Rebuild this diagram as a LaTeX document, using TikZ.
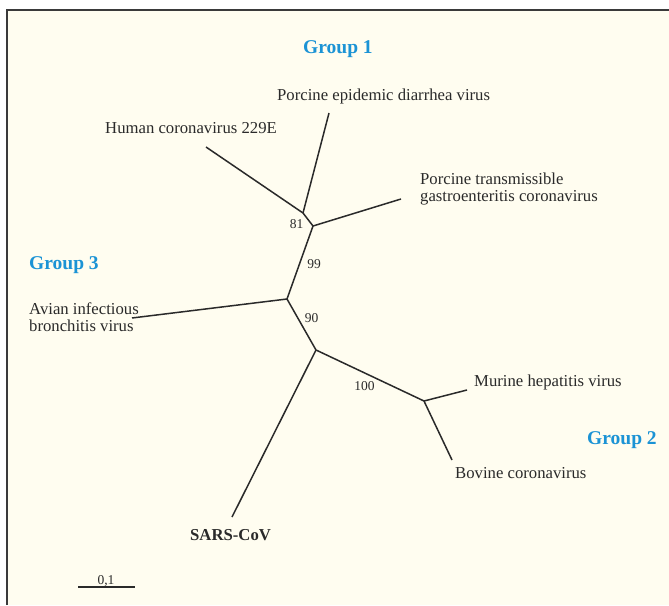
\documentclass[tikz,border=0pt]{standalone}
\usepackage{fontspec}
\setmainfont{Liberation Serif}
\definecolor{bgcream}{HTML}{FFFDF0}
\definecolor{grpblue}{HTML}{1B93D5}
\definecolor{txtgray}{HTML}{2A2A2A}
\definecolor{framegray}{HTML}{3A3A3A}
\begin{document}
\begin{tikzpicture}[x=1pt,y=-1pt,
  branch/.style={draw=txtgray,line width=1.5pt},
  lbl/.style={anchor=base west,inner sep=0pt,text=txtgray,font=\fontsize{16.7}{17.5}\selectfont,align=left},
  grp/.style={anchor=base west,inner sep=0pt,text=grpblue,font=\fontsize{19.5}{22}\selectfont\bfseries},
  boot/.style={anchor=base,inner sep=0pt,text=txtgray,font=\fontsize{13.5}{15}\selectfont}]
\useasboundingbox (0,0) rectangle (669,605);
\fill[white] (0,0) rectangle (669,605);
\fill[bgcream] (7,10) rectangle (669,605);
\draw[framegray,line width=2pt] (7,605) -- (7,10) -- (669,10);
% tree points
\coordinate (n81) at (303,213);
\coordinate (n1) at (313,226);
\coordinate (n99) at (287,299);
\coordinate (n90) at (316,350);
\coordinate (n2) at (424,401);
\coordinate (hum) at (206,147);
\coordinate (ped) at (329,113);
\coordinate (tge) at (401,199);
\coordinate (avi) at (132,318);
\coordinate (sar) at (232,517);
\coordinate (mur) at (467,390);
\coordinate (bov) at (452,460);
\coordinate (sbL) at (78,586.5);
\coordinate (sbR) at (135,586.5);
% branches
\draw[branch,line join=round] (hum) -- (n81) -- (n1) -- (n99) -- (n90) -- (n2) -- (mur);
\draw[branch] (ped) -- (n81);
\draw[branch] (n1) -- (tge);
\draw[branch] (n99) -- (avi);
\draw[branch] (n90) -- (sar);
\draw[branch] (n2) -- (bov);
\draw[branch,line width=2pt] (sbL) -- (sbR);
% labels
\node[grp] (g1) at (303,53) {Group 1};
\node[grp] (g3) at (29,269) {Group 3};
\node[grp] (g2) at (587,444) {Group 2};
\node[lbl] (lped) at (277,100.5) {Porcine epidemic diarrhea virus};
\node[lbl] (lhum) at (105,133) {Human coronavirus 229E};
\node[lbl] (ltge) at (420,201.5) {Porcine transmissible\\gastroenteritis coronavirus};
\node[lbl] (lavi) at (29,331.5) {Avian infectious\\bronchitis virus};
\node[lbl] (lmur) at (474,386) {Murine hepatitis virus};
\node[lbl] (lbov) at (455,478) {Bovine coronavirus};
\node[lbl,font=\fontsize{16.7}{18}\selectfont\bfseries] (lsar) at (190,540) {SARS-CoV};
\node[boot] (b81) at (296.5,228) {81};
\node[boot] (b99) at (314,268) {99};
\node[boot] (b90) at (311.5,322) {90};
\node[boot] (b100) at (364.5,390) {100};
\node[boot] (bsc) at (106,584) {0,1};
\end{tikzpicture}
\end{document}
